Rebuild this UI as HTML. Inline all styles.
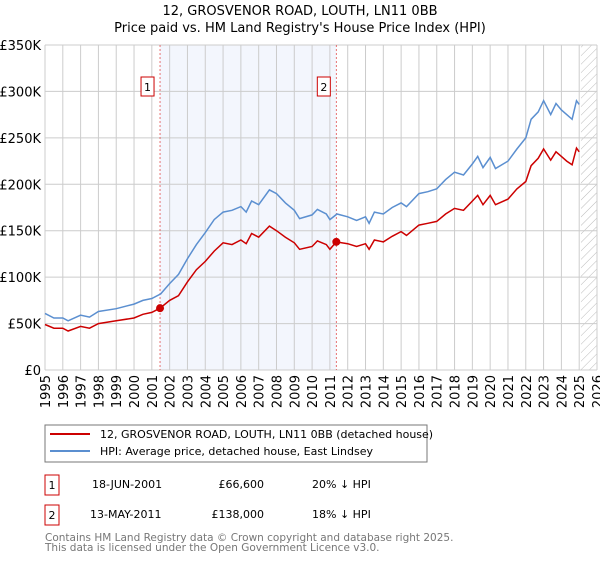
<!DOCTYPE html>
<html><head><meta charset="utf-8"><style>
body{margin:0;background:#fff;font-family:"Liberation Sans","DejaVu Sans",sans-serif;}
svg text{font-family:"DejaVu Sans","Liberation Sans",sans-serif;}
</style></head><body>
<svg id="c" width="600" height="560" xmlns="http://www.w3.org/2000/svg">
<defs><pattern id="hatch" width="6" height="6" patternUnits="userSpaceOnUse" patternTransform="rotate(45)"><line x1="0" y1="0" x2="0" y2="6" stroke="#bbb" stroke-width="1"/></pattern></defs>
<text x="300" y="15" text-anchor="middle" font-size="13">12, GROSVENOR ROAD, LOUTH, LN11 0BB</text>
<text x="300" y="32" text-anchor="middle" font-size="13">Price paid vs. HM Land Registry's House Price Index (HPI)</text>
<g id="grid"></g><g id="marks"></g>
<g>
<rect x="45" y="425" width="382" height="37" fill="#fff" stroke="#777"/>
<line x1="50" y1="434" x2="90" y2="434" stroke="#cc0000" stroke-width="2"/>
<text x="100" y="438" font-size="11">12, GROSVENOR ROAD, LOUTH, LN11 0BB (detached house)</text>
<line x1="50" y1="451" x2="90" y2="451" stroke="#5b8fd0" stroke-width="2"/>
<text x="100" y="455" font-size="11">HPI: Average price, detached house, East Lindsey</text>
</g>
<g font-size="11">
<rect x="45" y="475" width="14" height="20" fill="#fff" stroke="#cc0000"/><text x="52" y="489" text-anchor="middle">1</text>
<text x="92" y="488">18-JUN-2001</text><text x="264" y="488" text-anchor="end">£66,600</text><text x="312" y="488">20% ↓ HPI</text>
<rect x="45" y="505" width="14" height="20" fill="#fff" stroke="#cc0000"/><text x="52" y="519" text-anchor="middle">2</text>
<text x="90" y="518">13-MAY-2011</text><text x="264" y="518" text-anchor="end">£138,000</text><text x="312" y="518">18% ↓ HPI</text>
</g>
<text x="45" y="541" font-size="10.5" fill="#777">Contains HM Land Registry data © Crown copyright and database right 2025.</text>
<text x="45" y="551" font-size="10.5" fill="#777">This data is licensed under the Open Government Licence v3.0.</text>
</svg>
<script>
const yTicks=[0,50,100,150,200,250,300,350];
const yTickLabels=["£0","£50K","£100K","£150K","£200K","£250K","£300K","£350K"];
const xYears=[1995,1996,1997,1998,1999,2000,2001,2002,2003,2004,2005,2006,2007,2008,2009,2010,2011,2012,2013,2014,2015,2016,2017,2018,2019,2020,2021,2022,2023,2024,2025,2026];
const hpiT=[1995,1995.5,1996,1996.3,1997,1997.5,1998,1999,2000,2000.5,2001,2001.5,2002,2002.5,2003,2003.5,2004,2004.5,2005,2005.5,2006,2006.3,2006.6,2007,2007.6,2008,2008.5,2009,2009.3,2010,2010.3,2010.8,2011,2011.4,2012,2012.5,2013,2013.2,2013.5,2014,2014.5,2015,2015.3,2016,2016.5,2017,2017.5,2018,2018.5,2019,2019.3,2019.6,2020,2020.3,2021,2021.5,2022,2022.3,2022.7,2023,2023.4,2023.7,2024,2024.3,2024.6,2024.85,2025.0];
const hpiV=[61,56,56,53,59,57,63,66,71,75,77,82,93,103,120,135,148,162,170,172,176,170,182,178,194,190,180,172,163,167,173,168,162,168,165,161,165,158,170,168,175,180,176,190,192,195,205,213,210,222,230,218,229,217,225,238,250,270,278,290,275,287,280,275,270,290,286];
const propT=[1995,1995.5,1996,1996.3,1997,1997.5,1998,1999,2000,2000.5,2001,2001.46,2002,2002.5,2003,2003.5,2004,2004.5,2005,2005.5,2006,2006.3,2006.6,2007,2007.6,2008,2008.5,2009,2009.3,2010,2010.3,2010.8,2011,2011.36,2012,2012.5,2013,2013.2,2013.5,2014,2014.5,2015,2015.3,2016,2016.5,2017,2017.5,2018,2018.5,2019,2019.3,2019.6,2020,2020.3,2021,2021.5,2022,2022.3,2022.7,2023,2023.4,2023.7,2024,2024.3,2024.6,2024.85,2025.0];
const propV=[49,45,45,42,47,45,50,53,56,60,62,66.6,75,80,95,108,117,128,137,135,140,136,147,143,155,150,143,137,130,133,139,135,130,138,136,133,136,130,140,138,144,149,145,156,158,160,168,174,172,182,188,178,188,178,184,195,203,220,228,238,226,235,230,225,221,239,235];
const saleT=[2001.46,2011.36];
const saleV=[66.6,138];
const saleLabels=["1","2"];
const X0=45,X1=597,Y0=370,Y1=45;
const x=t=>X0+(t-1995)/(2026-1995)*(X1-X0);
const y=v=>Y0-v/350*(Y0-Y1);
const NS="http://www.w3.org/2000/svg";
const g=document.getElementById('grid'),m=document.getElementById('marks');
function mk(p,tag,a){const e=document.createElementNS(NS,tag);for(const k in a)e.setAttribute(k,a[k]);p.appendChild(e);return e;}
const band=mk(g,'rect',{x:x(saleT[0]),y:Y1,width:x(saleT[1])-x(saleT[0]),height:Y0-Y1,fill:'#f3f6fd'});


const hat=mk(g,'rect',{x:x(2025.1),y:Y1,width:X1-x(2025.1),height:Y0-Y1,fill:'url(#hatch)'});


yTicks.forEach((v,i)=>{
 mk(g,'line',{x1:X0,x2:X1,y1:y(v),y2:y(v),stroke:'#ccc'});
 const t=mk(g,'text',{x:X0-4,y:y(v)+5,'text-anchor':'end','font-size':'13'});t.textContent=yTickLabels[i];
 
 
});
xYears.forEach(yr=>{
 mk(g,'line',{x1:x(yr),x2:x(yr),y1:Y1,y2:Y0,stroke:'#ccc'});
 const t=mk(g,'text',{x:0,y:0,'text-anchor':'end','font-size':'13',transform:`translate(${x(yr)+5},${Y0+5}) rotate(-90)`});t.textContent=yr;
 
 
});
mk(g,'line',{x1:X0,x2:X0,y1:Y1,y2:Y0,stroke:'#ccc'});
saleT.forEach((t,i)=>{
 const l=mk(m,'line',{x1:x(t),x2:x(t),y1:Y1,y2:Y0,stroke:'#e05050','stroke-dasharray':'2,2','stroke-width':'0.8'});
 
 
});
const pl=(T,V)=>T.map((t,i)=>x(t).toFixed(1)+','+y(V[i]).toFixed(1)).join(' ');
const h=mk(m,'polyline',{points:pl(hpiT,hpiV),fill:'none',stroke:'#5b8fd0','stroke-width':'1.5'});


const p=mk(m,'polyline',{points:pl(propT,propV),fill:'none',stroke:'#cc0000','stroke-width':'1.5'});


saleT.forEach((t,i)=>{
 const c=mk(m,'circle',{cx:x(t),cy:y(saleV[i]),r:4,fill:'#cc0000'});
 
 
 const b=mk(m,'rect',{x:x(t)-19,y:77,width:13,height:19,fill:'#fff',stroke:'#cc0000'});
 
 
 const tx=mk(m,'text',{x:x(t)-12.5,y:91,'text-anchor':'middle','font-size':'11'});tx.textContent=saleLabels[i];
 
 
});
</script>
</body></html>
